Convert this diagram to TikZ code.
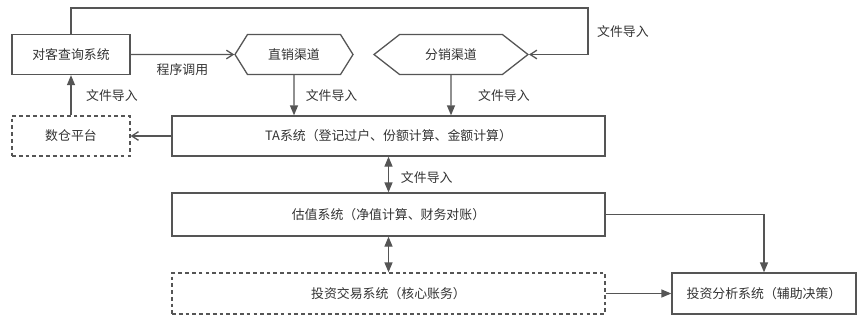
\documentclass[tikz,border=0pt]{standalone}
\usepackage{fontspec}
\setmainfont{Noto Sans CJK SC}
\usetikzlibrary{arrows.meta,positioning,shapes.symbols}
\definecolor{FlowLine}{HTML}{555555}
\definecolor{FlowText}{HTML}{333333}
\tikzset{
  sysbox/.style={draw=FlowLine, line width=1.1pt, fill=white, text=FlowText,
    align=center, minimum width=3.54cm, minimum height=1.2cm, inner sep=2pt},
  ghostbox/.style={sysbox, dash pattern=on 3.2pt off 2.6pt},
  channel/.style={sysbox, signal, signal to=east and west},
  wire/.style={-{Triangle[length=3mm, width=2.4mm]}, draw=FlowLine, line width=1.1pt},
  openwire/.style={-{Straight Barb[length=2mm, width=2.6mm]}, draw=FlowLine, line width=1.1pt},
  twoway/.style={{Triangle[length=3mm, width=2.4mm]}-{Triangle[length=3mm, width=2.4mm]},
    draw=FlowLine, line width=1.1pt},
  labeltext/.style={text=FlowText, inner sep=1pt}
}

\begin{document}
\begin{tikzpicture}[x=0.03cm, y=-0.03cm, font=\fontsize{11}{13}\selectfont]
  \useasboundingbox (0,0) rectangle (863,323);
  % upper row
  \node[sysbox] (query) at (71,54.5) {对客查询系统};
  \node[channel, signal pointer angle=116] (direct) at (294,54.5) {直销渠道};
  \node[channel, signal pointer angle=76, minimum width=4.62cm] (distrib) at (451,54.5) {分销渠道};
  \coordinate (loopcorner) at (588,8);
  % middle rows
  \node[ghostbox] (warehouse) at (71,136) {数仓平台};
  \node[sysbox, minimum width=12.99cm] (ta) at (388.5,136) {TA系统（登记过户、份额计算、金额计算）};
  \node[sysbox, minimum width=12.99cm, minimum height=1.29cm] (valuation) at (388.5,214.5) {估值系统（净值计算、财务对账）};
  % bottom row
  \node[ghostbox, minimum width=12.99cm, minimum height=1.23cm] (trading) at (388.5,293.5) {投资交易系统（核心账务）};
  \node[sysbox, minimum width=5.52cm, minimum height=1.23cm] (analysis) at (764,293.5) {投资分析系统（辅助决策）};

  \draw[openwire] (query) -- node[labeltext, below=2.2mm] {程序调用} (direct);
  \draw[openwire] (query.north) |- (loopcorner) |- node[labeltext, pos=0.25, right=2.2mm] {文件导入} (distrib.east);
  \draw[wire] (warehouse) -- node[labeltext, right=4mm] {文件导入} (query);
  \draw[openwire] (ta) -- (warehouse);
  \draw[wire] (direct) -- node[labeltext, right=3mm] {文件导入} (direct |- ta.north);
  \draw[wire] (distrib) -- node[labeltext, right=7.6mm] {文件导入} (distrib |- ta.north);
  \draw[twoway] (ta) -- node[labeltext, right=3.2mm, yshift=-1mm] {文件导入} (valuation);
  \draw[twoway] (valuation) -- (trading);
  \draw[wire] (trading) -- (analysis);
  \draw[wire] (valuation.east) -| (analysis.north);
\end{tikzpicture}
\end{document}
